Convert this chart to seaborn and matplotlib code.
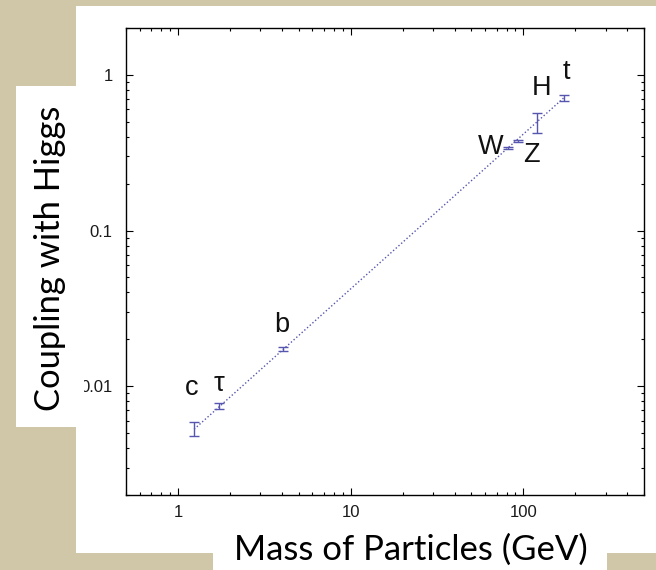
import numpy as np
import pandas as pd
import seaborn as sns
import matplotlib
matplotlib.use("Agg")
import matplotlib.pyplot as plt
from matplotlib.patches import Rectangle
from matplotlib.ticker import LogLocator, FixedLocator, FixedFormatter, NullFormatter

# ---------------- data ----------------
particles = ["c", "τ", "b", "W", "Z", "H", "t"]
mass = [1.24, 1.72, 4.06, 81.1, 92.7, 119.5, 171.4]          # GeV
coupling = [0.00529, 0.00745, 0.01732, 0.339, 0.376, 0.491, 0.711]
err_low = [0.00052, 0.0003, 0.0005, 0.005, 0.005, 0.067, 0.028]
err_high = [0.00058, 0.0003, 0.0005, 0.005, 0.005, 0.078, 0.028]

# dotted trend line end points
line_mass = [1.24, 171.4]
line_coupling = [0.00529, 0.711]

# text label anchor positions (data coords, baseline)
label_x = [1.196, 1.72, 4.0, 64.6, 111.0, 128.0, 178.5]
label_y = [0.00881, 0.00935, 0.0223, 0.312, 0.274, 0.737, 0.938]

xticks = [1, 10, 100]
xtick_labels = ["1", "10", "100"]
yticks = [0.01, 0.1, 1]
ytick_labels = ["0.01", "0.1", "1"]

xlabel = "Mass of Particles (GeV)"
ylabel = "Coupling with Higgs"

# ---------------- style ----------------
sns.set_style("ticks")
plt.rcParams["font.family"] = ["Liberation Sans", "DejaVu Sans"]

W, H = 656, 570
DPI = 100
BEIGE = "#CFC7A8"
BLUE = "#5656AE"

fig = plt.figure(figsize=(W / DPI, H / DPI), dpi=DPI, facecolor=BEIGE)

def px_rect(x0, y0, x1, y1, z):
    """rectangle from pixel coords (top-left origin)"""
    r = Rectangle((x0 / W, 1 - y1 / H), (x1 - x0) / W, (y1 - y0) / H,
                  transform=fig.transFigure, facecolor="white",
                  edgecolor="none", zorder=z)
    fig.patches.append(r)

# main white panel (behind axes)
px_rect(76, 6, 656, 553, -5)

ax = fig.add_axes([126 / W, 1 - 495 / H, (644 - 126) / W, (495 - 28) / H])
ax.set_facecolor("white")

df_line = pd.DataFrame({"mass": line_mass, "coupling": line_coupling})
sns.lineplot(data=df_line, x="mass", y="coupling", ax=ax, color=BLUE,
             lw=1.0, dashes=False, zorder=2)
ax.lines[-1].set_linestyle((0, (1, 1.6)))

ax.errorbar(mass, coupling, yerr=[err_low, err_high], fmt="none",
            ecolor=BLUE, elinewidth=1.0, capsize=3.3, capthick=1.0, zorder=3)

ax.set_xscale("log")
ax.set_yscale("log")
ax.set_xlim(0.5, 500)
ax.set_ylim(0.002, 2)

for name, lx, ly in zip(particles, label_x, label_y):
    ax.text(lx, ly, name, ha="center", va="baseline", fontsize=19.5,
            color="#111111", family=["Liberation Sans", "DejaVu Sans"])

ax.xaxis.set_major_locator(FixedLocator(xticks))
ax.xaxis.set_major_formatter(FixedFormatter(xtick_labels))
ax.yaxis.set_major_locator(FixedLocator(yticks))
ax.yaxis.set_major_formatter(FixedFormatter(ytick_labels))
ax.xaxis.set_minor_locator(LogLocator(base=10, subs=np.arange(2, 10), numticks=20))
ax.yaxis.set_minor_locator(LogLocator(base=10, subs=np.arange(2, 10), numticks=20))
ax.xaxis.set_minor_formatter(NullFormatter())
ax.yaxis.set_minor_formatter(NullFormatter())

ax.tick_params(which="both", direction="in", top=True, right=True,
               color="black", width=0.8)
ax.tick_params(which="major", length=5)
ax.tick_params(which="minor", length=2.5)
ax.tick_params(axis="x", which="major", pad=7, labelsize=12, labelcolor="#1a1a1a")
ax.tick_params(axis="y", which="major", pad=9.5, labelsize=12, labelcolor="#1a1a1a")
for sp in ax.spines.values():
    sp.set_color("black")
    sp.set_linewidth(1.0)
ax.set_xlabel("")
ax.set_ylabel("")

# label boxes drawn over axes
px_rect(16, 86, 84, 427, 10)
px_rect(213, 525, 607, 570, 10)

LABEL_FONT = ["Lato", "DejaVu Sans"]
renderer = fig.canvas.get_renderer()

def fitted_size(text, target_px, base=24):
    t = fig.text(0, 0, text, fontsize=base, family=LABEL_FONT)
    w = t.get_window_extent(renderer=renderer).width
    t.remove()
    return base * target_px / w

xs = fitted_size(xlabel, 355)
fig.text(410.5 / W, 1 - 560 / H, xlabel, ha="center", va="baseline",
         fontsize=xs, family=LABEL_FONT, color="black", zorder=11)

ys = fitted_size(ylabel, 305)
fig.text(60 / W, 1 - 258 / H, ylabel, ha="center", va="baseline",
         rotation=90, rotation_mode="anchor", fontsize=ys,
         family=LABEL_FONT, color="black", zorder=11)

fig.savefig("out.png", dpi=DPI, facecolor=BEIGE)
